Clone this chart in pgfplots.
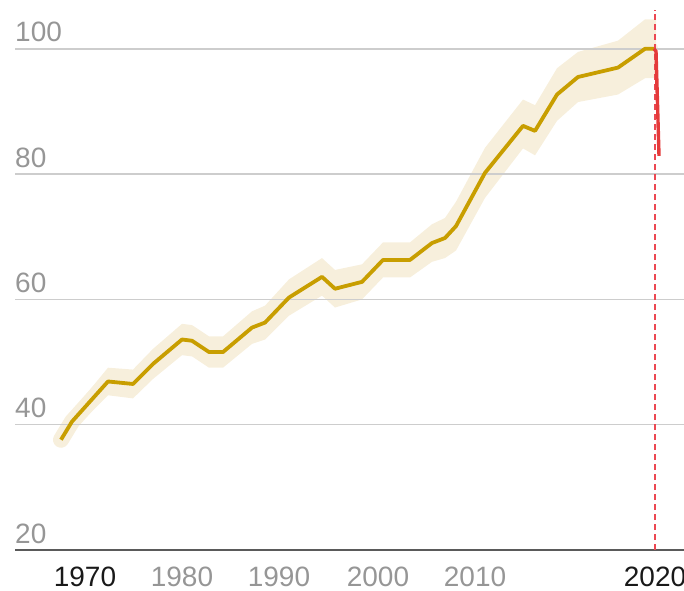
\documentclass[border=0pt]{standalone}
\usepackage{pgfplots}
\pgfplotsset{compat=1.18}
\usepackage{fontspec}
\setmainfont{Liberation Sans}
\definecolor{gold}{RGB}{200,158,0}
\definecolor{band}{RGB}{247,239,220}
\definecolor{redline}{RGB}{228,58,58}
\definecolor{reddash}{RGB}{236,72,82}
\definecolor{gridc}{RGB}{205,205,205}
\definecolor{basec}{RGB}{90,90,90}
\definecolor{labg}{RGB}{150,150,150}
\definecolor{labk}{RGB}{25,25,25}
\tikzset{lab/.style={inner sep=0pt, font=\fontsize{28}{30}\selectfont}}
\begin{document}
\begin{tikzpicture}
\begin{axis}[
  set layers,
  scale only axis,
  width=669pt, height=550pt,
  xmin=15, xmax=684,
  ymin=20, ymax=107.79,
  axis line style={draw=none},
  xtick=\empty,
  ytick={40,60,80,100},
  yticklabels={},
  major tick length=0pt,
  ymajorgrids,
  grid style={color=gridc, line width=1.4pt},
  extra y ticks={20},
  extra y tick labels={},
  extra y tick style={grid style={color=basec, line width=2.6pt}},
  clip=false,
]
% uncertainty band
\addplot[on layer=axis background, fill=band, draw=none] coordinates {
(61,38.9) (72,42.1) (108,49.1) (133,48.8) (153,52.1) (182,56.1) (192,55.9)
(209,54.1) (223,54.1) (252,58.1) (265,59.0) (289,63.2) (322,66.6) (335,64.7)
(362,65.6) (383,69.1) (410,69.1) (432,72.0) (445,73.0) (456,75.6) (485,84.2)
(523,91.9) (535,91.0) (557,96.9) (578,99.5) (618,101.3) (645,104.7) (656,104.7)
(656,95.3) (645,95.3) (618,92.7) (578,91.5) (557,88.5) (535,83.0) (523,84.1)
(485,76.2) (456,67.8) (445,66.6) (432,66.0) (410,63.5) (383,63.5) (362,60.0)
(335,58.7) (322,60.6) (289,57.4) (265,53.6) (252,52.9) (223,49.1) (209,49.1)
(192,50.9) (182,51.1) (153,47.3) (133,44.2) (108,44.7) (72,38.9) (61,36.3)
} -- cycle;
\addplot[on layer=axis background, draw=band, line width=16pt, line join=round, line cap=round] coordinates {
(61,37.6) (72,40.5) (108,46.9) (133,46.5) (153,49.7) (182,53.6) (192,53.4)
(209,51.6) (223,51.6) (252,55.5) (265,56.3) (289,60.3) (322,63.6) (335,61.7)
(362,62.8) (383,66.3) (410,66.3) (432,69.0) (445,69.8) (456,71.7) (485,80.2)
(523,87.7) (535,86.9) (557,92.7) (578,95.5) (618,97.0) (645,100) (650,100)
};
% main series
\addplot[draw=gold, line width=3.8pt, line join=round] coordinates {
(61,37.6) (72,40.5) (108,46.9) (133,46.5) (153,49.7) (182,53.6) (192,53.4)
(209,51.6) (223,51.6) (252,55.5) (265,56.3) (289,60.3) (322,63.6) (335,61.7)
(362,62.8) (383,66.3) (410,66.3) (432,69.0) (445,69.8) (456,71.7) (485,80.2)
(523,87.7) (535,86.9) (557,92.7) (578,95.5) (618,97.0) (645,100) (654,100)
};
% 2020 marker
\addplot[draw=reddash, line width=1.6pt, dash pattern=on 6pt off 4pt] coordinates {(655,20) (655,106.2)};
\addplot[draw=redline, line width=3.4pt, line join=round] coordinates {(654,100) (656,99.6) (659,82.9)};
% y labels
\node[lab, anchor=base west, text=labg] at (axis cs:15,20) [yshift=7pt] {20};
\node[lab, anchor=base west, text=labg] at (axis cs:15,40) [yshift=7pt] {40};
\node[lab, anchor=base west, text=labg] at (axis cs:15,60) [yshift=7pt] {60};
\node[lab, anchor=base west, text=labg] at (axis cs:15,80) [yshift=7pt] {80};
\node[lab, anchor=base west, text=labg] at (axis cs:15,100) [yshift=7pt] {100};
% x labels
\node[lab, anchor=base, text=labk] at (axis cs:85,20) [yshift=-36pt] {1970};
\node[lab, anchor=base, text=labg] at (axis cs:182,20) [yshift=-36pt] {1980};
\node[lab, anchor=base, text=labg] at (axis cs:279,20) [yshift=-36pt] {1990};
\node[lab, anchor=base, text=labg] at (axis cs:378,20) [yshift=-36pt] {2000};
\node[lab, anchor=base, text=labg] at (axis cs:475,20) [yshift=-36pt] {2010};
\node[lab, anchor=base, text=labk] at (axis cs:655,20) [yshift=-36pt] {2020};
\end{axis}
\pgfresetboundingbox
\path[use as bounding box] (-15pt,-40pt) rectangle (669pt,550pt);
\end{tikzpicture}
\end{document}
